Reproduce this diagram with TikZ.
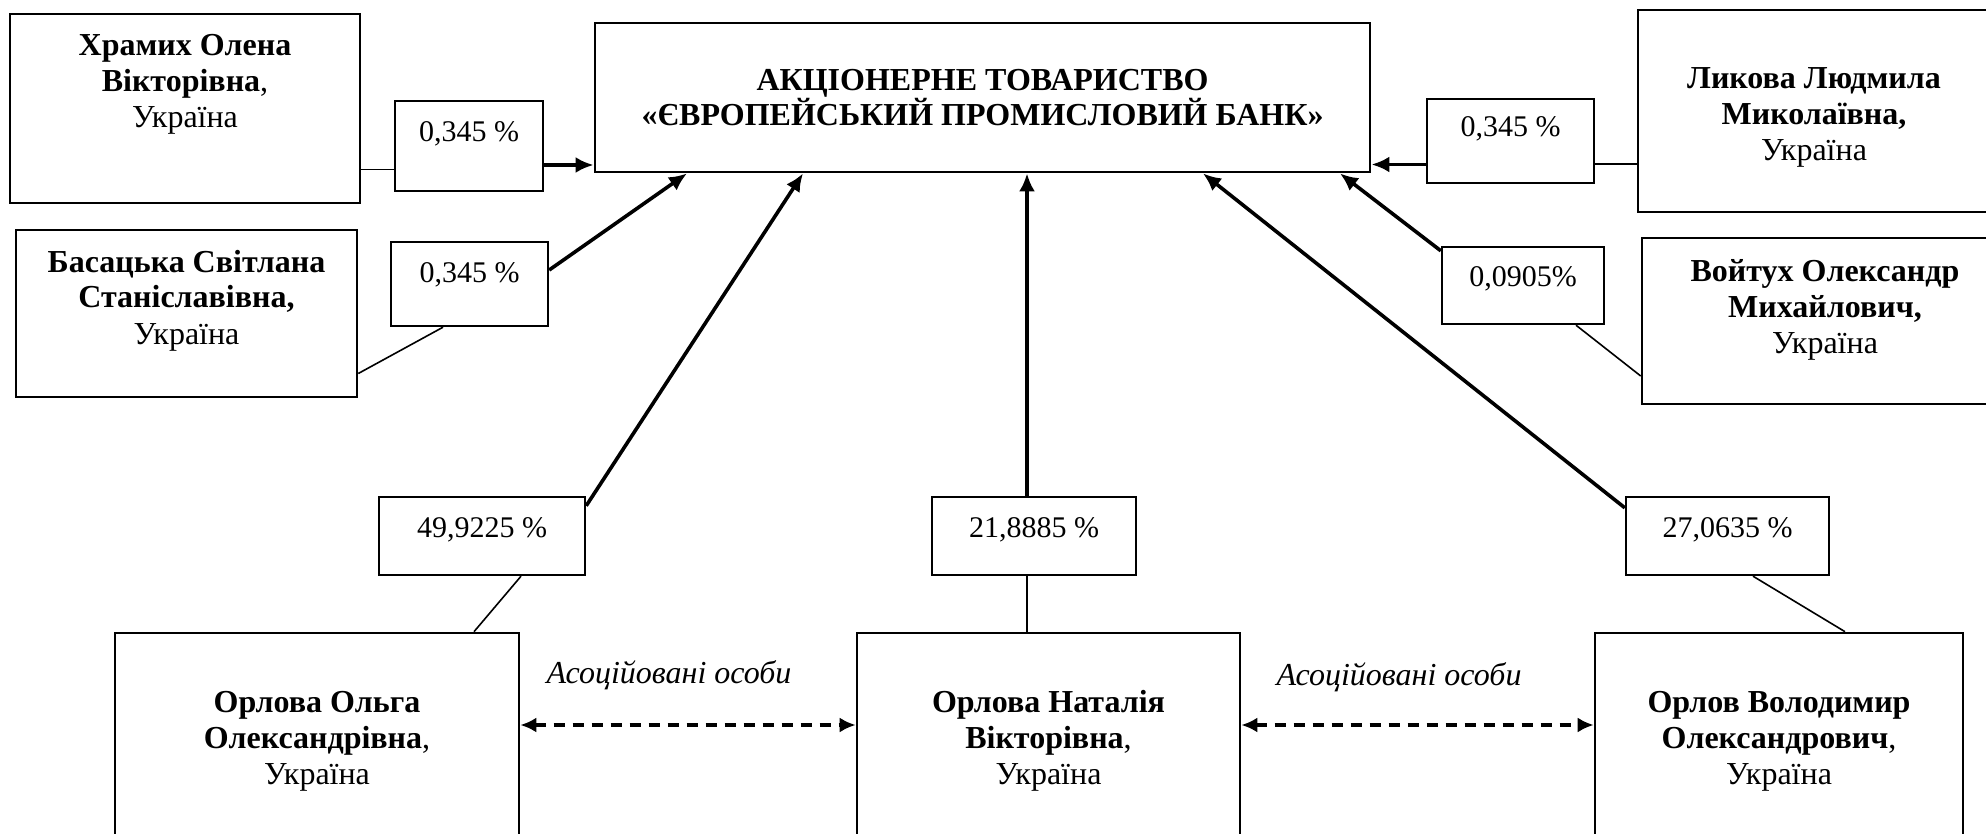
\documentclass[tikz,border=0pt]{standalone}
\usepackage{fontspec}
\setmainfont{Liberation Serif}
\usetikzlibrary{arrows.meta}

\begin{document}
\begin{tikzpicture}[x=1pt,y=-1pt,
  bank/.style={draw, line width=2.8pt, inner sep=0pt, align=center, anchor=base,
    font=\bfseries\fontsize{32}{35}\selectfont},
  person/.style={draw, line width=2.6pt, inner sep=0pt, align=center, anchor=base,
    font=\fontsize{32}{36}\selectfont},
  pct/.style={draw, line width=2.4pt, inner sep=0pt, anchor=base,
    font=\fontsize{30}{34}\selectfont},
  note/.style={inner sep=0pt, anchor=base, font=\itshape\fontsize{32}{36}\selectfont},
  link/.style={line width=1.6pt},
  share/.style={line width=3.6pt, -{Latex[length=18pt,width=16pt]}},
  assoc/.style={line width=3.4pt, dash pattern=on 11pt off 8pt,
    {Latex[length=16pt,width=15pt]}-{Latex[length=16pt,width=15pt]}}]
\useasboundingbox (0,0) rectangle (1986,834);
\clip (0,0) rectangle (1986,834);

% bank
\node[bank, minimum width=775pt, text height=103pt, text depth=46pt] (bank) at (982.5,126)
  {АКЦІОНЕРНЕ ТОВАРИСТВО\\«ЄВРОПЕЙСЬКИЙ ПРОМИСЛОВИЙ БАНК»};

% shareholders
\node[person, minimum width=350pt, text height=114pt, text depth=75pt] (hram) at (185,128)
  {\textbf{Храмих Олена}\\\textbf{Вікторівна},\\Україна};
\node[person, minimum width=341pt, text height=114pt, text depth=53pt] (bas) at (186.5,344)
  {\textbf{Басацька Світлана}\\\textbf{Станіславівна,}\\Україна};
\node[person, minimum width=352pt, text height=151pt, text depth=51pt] (lyk) at (1814,161)
  {\textbf{Ликова Людмила}\\\textbf{Миколаївна,}\\Україна};
\node[person, minimum width=366pt, text height=115pt, text depth=51pt] (voit) at (1825,353)
  {\textbf{Войтух Олександр}\\\textbf{Михайлович,}\\Україна};
\node[person, minimum width=404pt, text height=151pt, text depth=76pt] (olga) at (317,784)
  {\textbf{Орлова Ольга}\\\textbf{Олександрівна},\\Україна};
\node[person, minimum width=383pt, text height=151pt, text depth=76pt] (nat) at (1048.5,784)
  {\textbf{Орлова Наталія}\\\textbf{Вікторівна},\\Україна};
\node[person, minimum width=368pt, text height=151pt, text depth=76pt] (vol) at (1779,784)
  {\textbf{Орлов Володимир}\\\textbf{Олександрович},\\Україна};

% shares
\node[pct, minimum width=148pt, text height=41pt, text depth=49pt] (p1) at (469,142) {0,345 \%};
\node[pct, minimum width=157pt, text height=41pt, text depth=43pt] (p2) at (469.5,283) {0,345 \%};
\node[pct, minimum width=167pt, text height=38pt, text depth=46pt] (p3) at (1510.5,137) {0,345 \%};
\node[pct, minimum width=162pt, text height=40pt, text depth=37pt] (p4) at (1523,287) {0,0905\%};
\node[pct, minimum width=206pt, text height=40pt, text depth=38pt] (p5) at (482,537) {49,9225 \%};
\node[pct, minimum width=204pt, text height=40pt, text depth=38pt] (p6) at (1034,537) {21,8885 \%};
\node[pct, minimum width=203pt, text height=40pt, text depth=38pt] (p7) at (1727.5,537) {27,0635 \%};

\node[note] (as1) at (669,683) {Асоційовані особи};
\node[note] (as2) at (1399,685) {Асоційовані особи};

% links
\draw[link] ([yshift=-61pt]hram.east) -- ([yshift=-61pt]hram.east -| p1.west);
\draw[share] ([yshift=-19pt]p1.east) -- ([yshift=-19pt]p1.east -| bank.west);
\draw[link] ([yshift=-60pt]bas.east) -- ([xshift=-26.5pt]p2.south);
\draw[share] ([yshift=14pt]p2.east) -- ([xshift=-295.5pt]bank.south);
\draw[link] ([yshift=-53pt]lyk.west) -- ([yshift=-53pt]lyk.west -| p3.east);
\draw[share] ([yshift=-23.5pt]p3.west) -- ([yshift=-23.5pt]p3.west -| bank.east);
\draw[link] ([yshift=-55pt]voit.west) -- ([xshift=53pt]p4.south);
\draw[share] ([yshift=-5pt]p4.north west) -- ([xshift=357.5pt]bank.south);
\draw[link] ([xshift=157pt]olga.north) -- ([xshift=39pt]p5.south);
\draw[share] ([yshift=-10pt]p5.north east) -- ([xshift=-179.5pt]bank.south);
\draw[link] ([xshift=-7pt]p6.south) -- ([xshift=-7pt]p6.south |- nat.north);
\draw[share] ([xshift=-7pt]p6.north) -- ([xshift=-7pt]p6.north |- bank.south);
\draw[link] ([xshift=66pt]vol.north) -- ([xshift=25.5pt]p7.south);
\draw[share] ([yshift=-12pt]p7.north west) -- ([xshift=220.5pt]bank.south);

\draw[assoc] ([yshift=21.5pt]olga.east) -- ([yshift=21.5pt]olga.east -| nat.west);
\draw[assoc] ([yshift=21.5pt]nat.east) -- ([yshift=21.5pt]nat.east -| vol.west);
\end{tikzpicture}
\end{document}
